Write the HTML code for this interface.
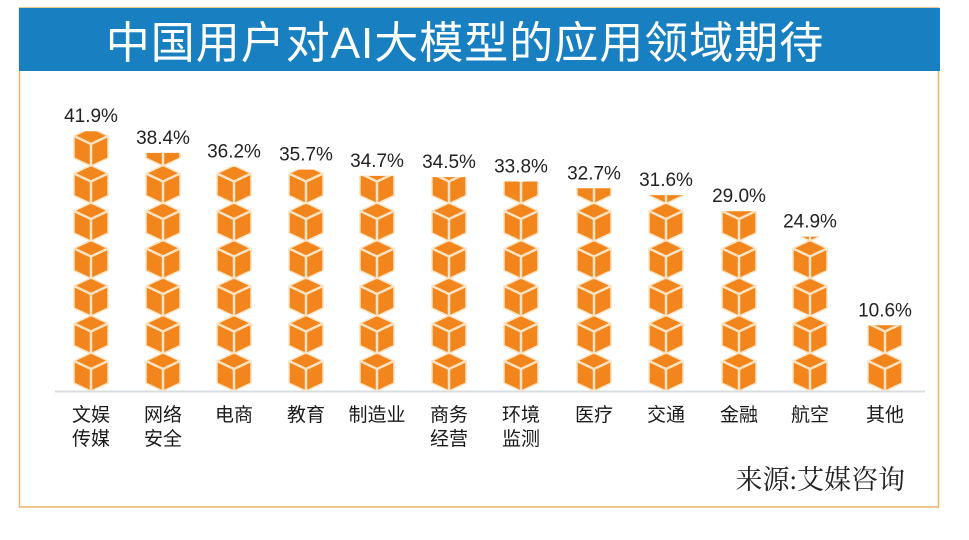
<!DOCTYPE html>
<html><head><meta charset="utf-8">
<style>
body{margin:0;background:#fff;width:969px;height:535px;overflow:hidden;font-family:"Liberation Sans","Noto Sans CJK SC",sans-serif}
</style></head><body>
<svg width="969" height="535" xmlns="http://www.w3.org/2000/svg" id="s">
<rect x="19.5" y="8" width="919" height="499" fill="#fff" stroke="#e8b36a" stroke-width="1.5"/>
<rect x="19" y="8" width="921" height="63" fill="#1880c0"/>
<text x="465" y="58" text-anchor="middle" fill="#fff" font-size="44" letter-spacing="1" font-family="'Liberation Sans','Noto Sans CJK SC',sans-serif">中国用户对AI大模型的应用领域期待</text>
<line x1="55" y1="391.5" x2="925" y2="391.5" stroke="#d8dde2" stroke-width="2"/>
<g id="bars"></g>
<text x="905" y="489" text-anchor="end" font-size="27" fill="#222" font-family="'Liberation Serif','Noto Serif CJK SC',serif">来源:艾媒咨询</text>
</svg>
<script>
var d=[["41.9%",41.9,["文娱","传媒"]],["38.4%",38.4,["网络","安全"]],["36.2%",36.2,["电商"]],["35.7%",35.7,["教育"]],["34.7%",34.7,["制造业"]],["34.5%",34.5,["商务","经营"]],["33.8%",33.8,["环境","监测"]],["32.7%",32.7,["医疗"]],["31.6%",31.6,["交通"]],["29.0%",29.0,["金融"]],["24.9%",24.9,["航空"]],["10.6%",10.6,["其他"]]];
var xs=[91,163,234,306,377,449,521,594,666,739,810,885];
var g=document.getElementById("bars");
var h="";
var base=391,sc=6.2,P=37.5,W=34;
d.forEach(function(e,i){
 var cx=xs[i],top=base-e[1]*sc;
 h+='<clipPath id="c'+i+'"><rect x="'+(cx-20)+'" y="'+top+'" width="40" height="'+(base-top)+'"/></clipPath><g clip-path="url(#c'+i+')">';
 for(var y=base;y>top-P;y-=P){
  var t=y-38,x0=cx-W/2;
  var p=function(a,b){return (x0+a*W/32)+','+(t+b)};
  h+='<polygon points="'+p(16,0)+' '+p(32,8)+' '+p(32,30)+' '+p(16,38)+' '+p(0,30)+' '+p(0,8)+'" fill="#f2861c" stroke="#fbe3c4" stroke-width="1.5"/>';
  h+='<polyline points="'+p(0,8)+' '+p(16,16)+' '+p(32,8)+'" fill="none" stroke="#fbe3c4" stroke-width="2.5"/><line x1="'+cx+'" y1="'+(t+16)+'" x2="'+cx+'" y2="'+(t+38)+'" stroke="#fbe3c4" stroke-width="2.5"/>';
 }
 h+='</g>';
 h+='<text x="'+cx+'" y="'+(top-9)+'" text-anchor="middle" font-size="19" fill="#222" font-family="Liberation Sans,sans-serif">'+e[0]+'</text>';
 e[2].forEach(function(s,j){h+='<text x="'+cx+'" y="'+(421+j*24)+'" text-anchor="middle" font-size="19" fill="#1a1a1a" font-family="Liberation Sans,Noto Sans CJK SC,sans-serif">'+s+'</text>';});
});
g.innerHTML=h;
</script>
</body></html>
